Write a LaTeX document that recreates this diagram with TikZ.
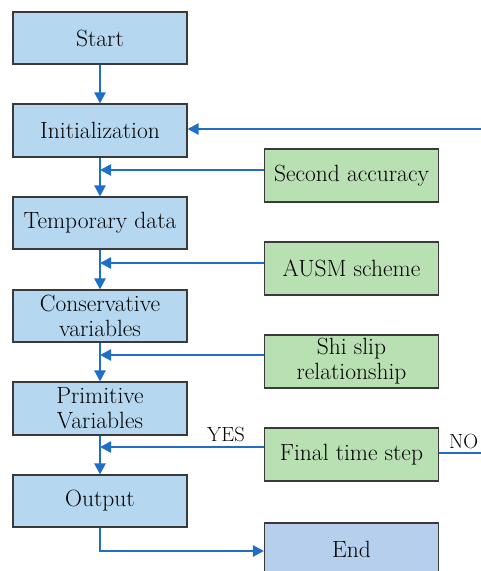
\documentclass[tikz,border=0pt]{standalone}
\usepackage{fontspec}
\usetikzlibrary{arrows.meta,calc}
\definecolor{procfill}{HTML}{B5D8F0}
\definecolor{inputfill}{HTML}{B9E0B2}
\definecolor{endfill}{HTML}{B5CFEC}
\definecolor{flowline}{HTML}{1F6FC9}
\definecolor{boxedge}{HTML}{3A3A3A}
\begin{document}
\begin{tikzpicture}[x=1pt,y=-1pt,
  every node/.style={font=\fontsize{23.5}{25}\selectfont},
  procbox/.style={draw=boxedge,line width=1.1pt,fill=procfill,minimum width=174pt,align=center,inner sep=0pt},
  inbox/.style={draw=boxedge,line width=1.1pt,fill=inputfill,minimum width=174pt,align=center,inner sep=0pt},
  flow/.style={draw=flowline,line width=2.4pt,-{Triangle[length=11pt,width=11pt]}},
  plain/.style={draw=flowline,line width=2.4pt},
  tag/.style={font=\fontsize{20.5}{22}\selectfont}]
\useasboundingbox (0,0) rectangle (481,571);
% main column
\node[procbox,minimum height=52pt] (start) at (100,38) {Start};
\node[procbox,minimum height=53pt] (init) at (100,130.5) {Initialization};
\node[procbox,minimum height=52pt] (temp) at (100,223) {Temporary data};
\node[procbox,minimum height=52pt] (cons) at (100,316) {Conservative\\variables};
\node[procbox,minimum height=53pt] (prim) at (100,408.5) {Primitive\\Variables};
\node[procbox,minimum height=52pt] (out) at (100,501) {Output};
% side inputs
\node[inbox,minimum height=53pt] (acc) at (351.5,175.5) {Second accuracy};
\node[inbox,minimum height=53pt] (ausm) at (351.5,268.5) {AUSM scheme};
\node[inbox,minimum height=53pt] (shi) at (351.5,361.5) {Shi slip\\relationship};
\node[inbox,minimum height=53pt] (fin) at (351.5,454.5) {Final time step};
\node[draw=boxedge,line width=1.1pt,fill=endfill,minimum width=174pt,minimum height=52pt,inner sep=0pt] (end) at (351.5,549) {End};
% join points on the main line
\coordinate (j1) at (100,170);
\coordinate (j2) at (100,263);
\coordinate (j3) at (100,355);
\coordinate (j4) at (100,447);
\coordinate (loopin) at (481,129);
\coordinate (noout) at (481,453);
\coordinate (bend) at (100,551);
% vertical flow
\draw[flow] (start.south) -- (init.north);
\draw[flow] (init.south) -- (temp.north);
\draw[flow] (temp.south) -- (cons.north);
\draw[flow] (cons.south) -- (prim.north);
\draw[flow] (prim.south) -- (out.north);
\draw[flow] (out.south) -- (bend) -- (end.west |- bend);
% side feeds
\draw[flow] (acc.west |- j1) -- (j1);
\draw[flow] (ausm.west |- j2) -- (j2);
\draw[flow] (shi.west |- j3) -- (j3);
\draw[flow] (fin.west |- j4) -- (j4);
\node[tag,anchor=south,inner sep=0pt] (yes) at (226,442) {YES};
% loop back
\draw[flow] (loopin) -- (init.east |- loopin);
\draw[plain] (fin.east |- noout) -- (noout);
\node[tag,anchor=south west,inner sep=0pt] (no) at (449,449) {NO};
\end{tikzpicture}
\end{document}
